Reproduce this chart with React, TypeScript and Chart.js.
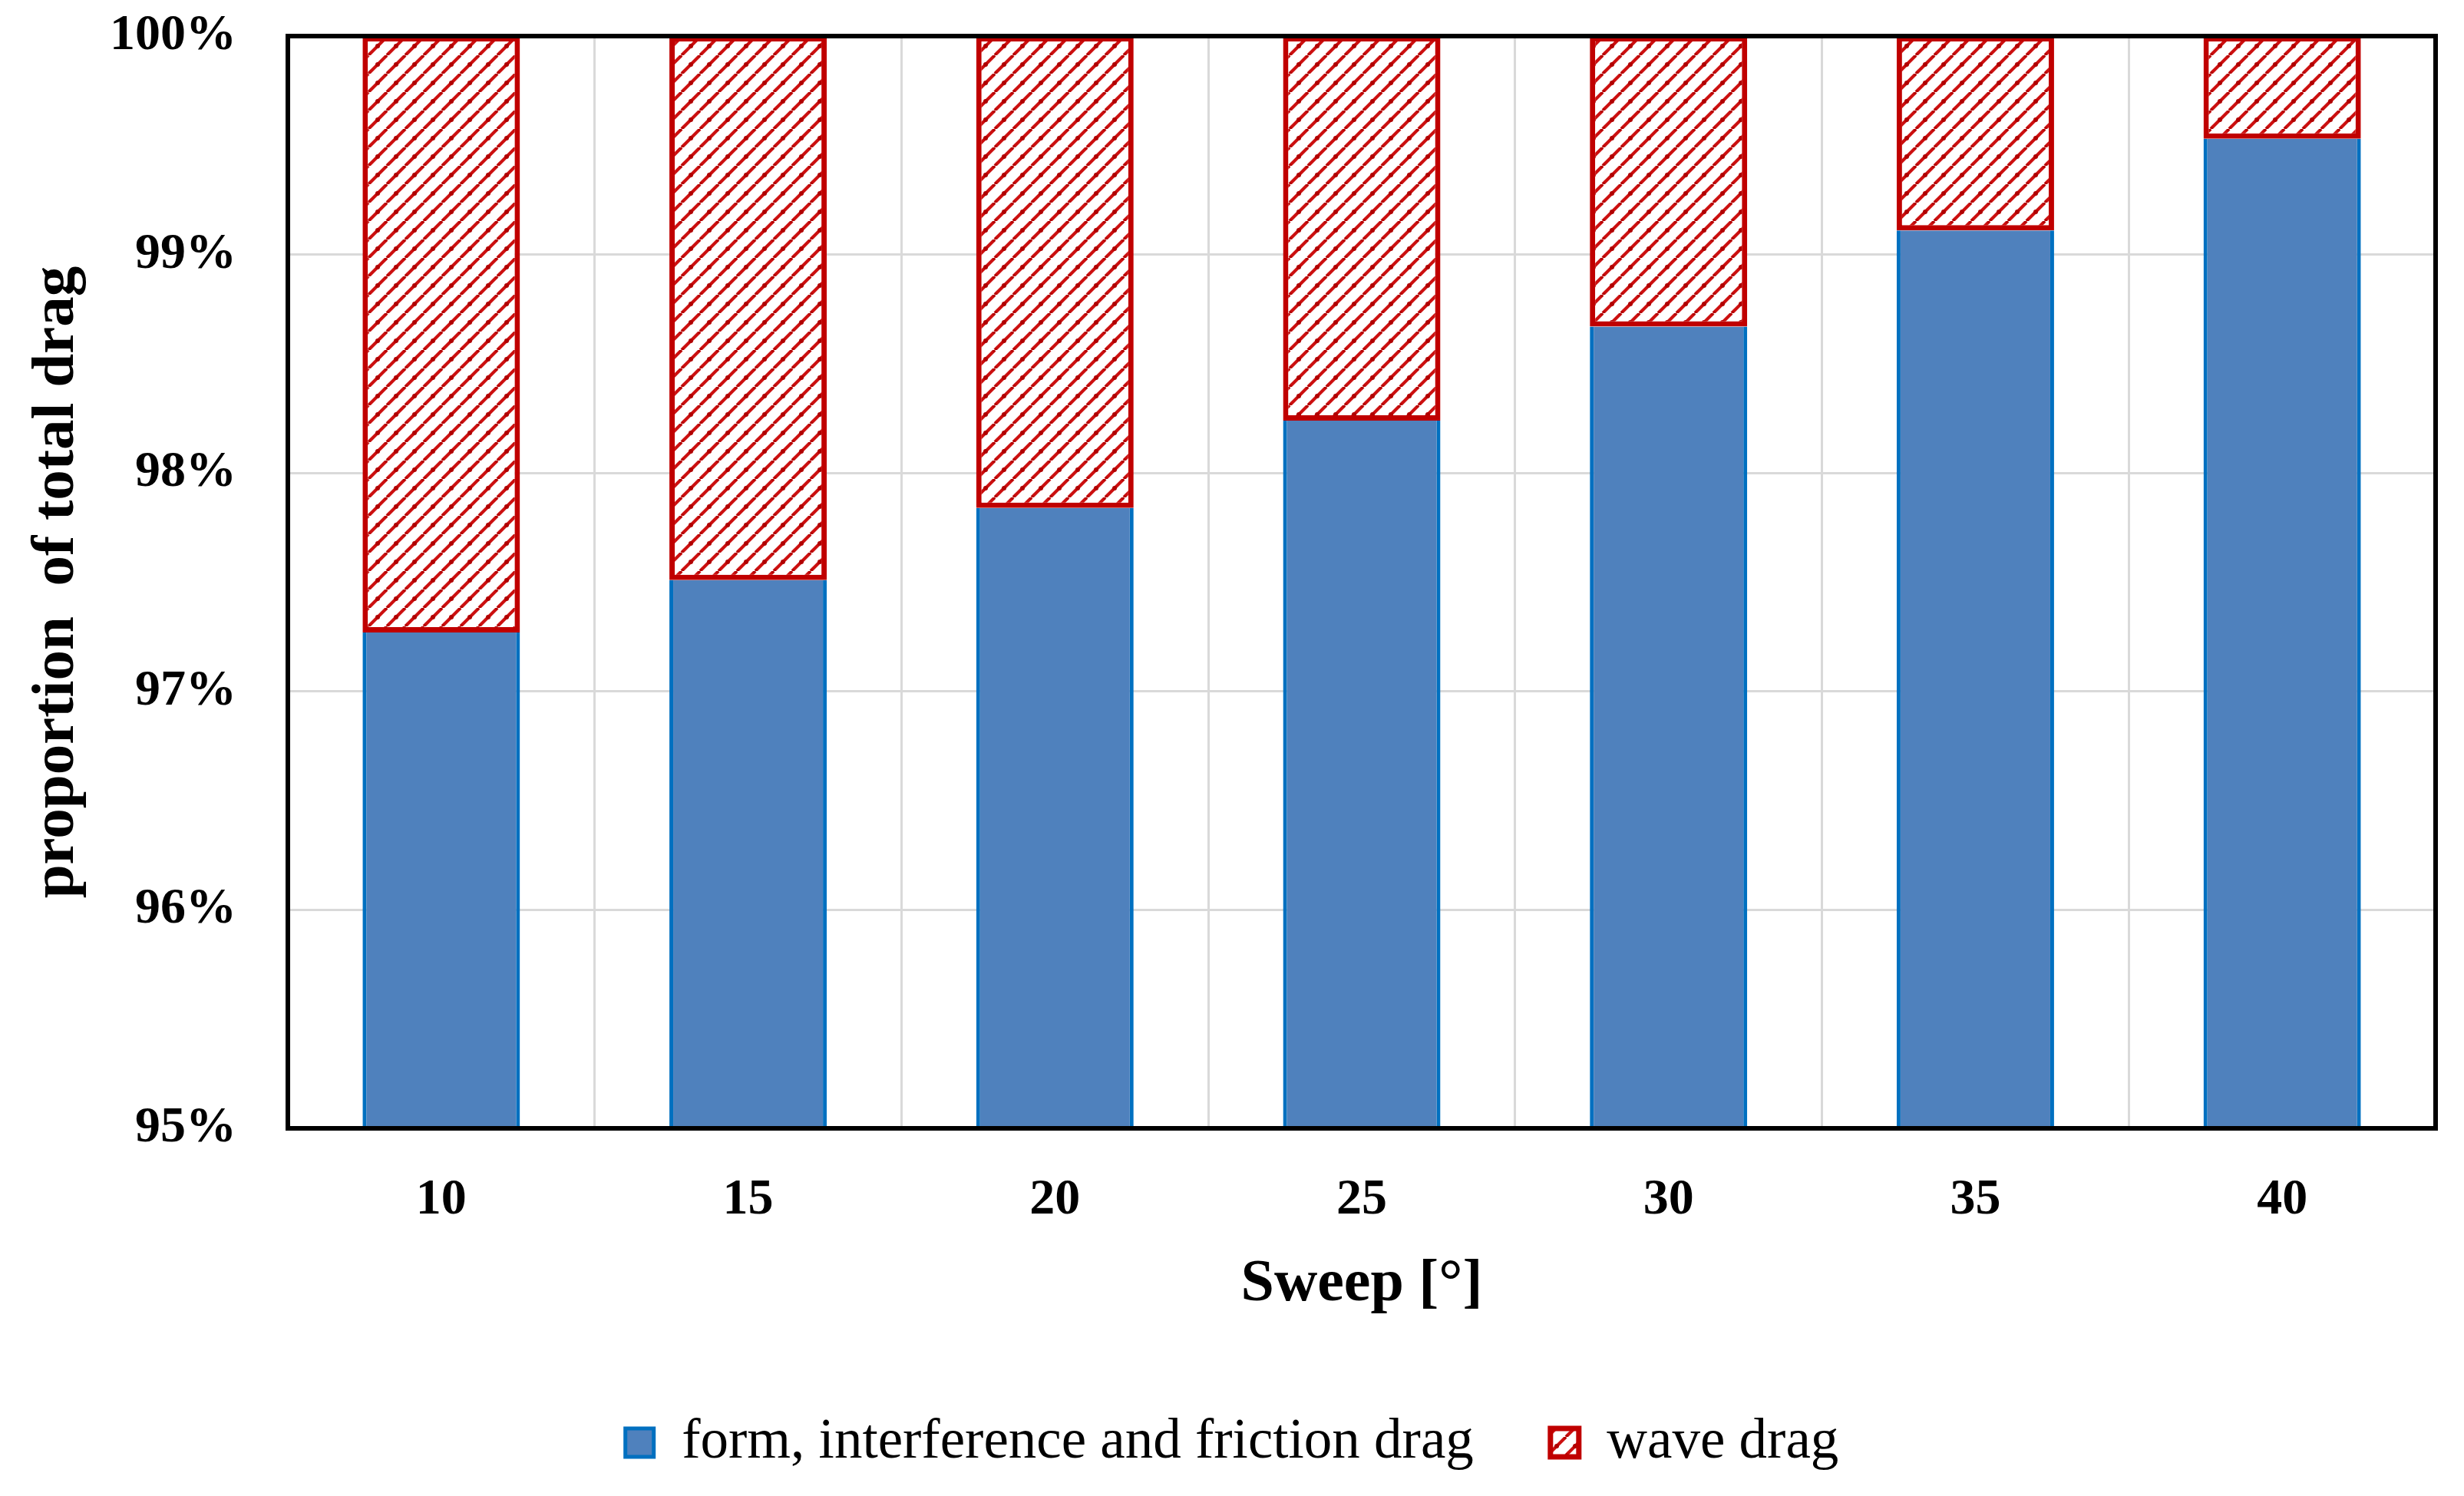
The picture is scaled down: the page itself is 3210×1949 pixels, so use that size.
import React, { useEffect, useRef } from "react";
import { Chart, registerables } from "chart.js";

Chart.register(...registerables);

const categories = ["10", "15", "20", "25", "30", "35", "40"];
const formDrag = [97.27, 97.51, 97.84, 98.24, 98.67, 99.11, 99.53];
const waveDrag = [2.73, 2.49, 2.16, 1.76, 1.33, 0.89, 0.47];
const seriesNames = ["form, interference and friction drag", "wave drag"];
const yTickMin = 95;
const yTickMax = 100;

const W = 3210;
const H = 1949;
const FONT = "'Liberation Serif', 'Times New Roman', serif";

function makeHatch(): CanvasPattern | string {
  const T = 24;
  const c = document.createElement("canvas");
  c.width = T;
  c.height = T;
  const g = c.getContext("2d");
  if (!g) return "#C00000";
  g.fillStyle = "#ffffff";
  g.fillRect(0, 0, T, T);
  g.strokeStyle = "#CC1010";
  g.lineWidth = 4.2;
  g.beginPath();
  for (let k = -1; k <= 1; k++) {
    g.moveTo(k * T, T);
    g.lineTo(k * T + T, 0);
  }
  g.stroke();
  g.fillStyle = "#B00000";
  const dots = [
    [T / 2, T / 2],
    [0, T],
    [T, 0],
  ];
  for (const [x, y] of dots) {
    g.beginPath();
    g.arc(x, y, 3, 0, Math.PI * 2);
    g.fill();
  }
  const p = g.createPattern(c, "repeat");
  return p || "#C00000";
}

const frameBorder = {
  id: "frameBorder",
  afterDatasetsDraw(chart: any) {
    const { ctx, chartArea } = chart;
    ctx.save();
    ctx.strokeStyle = "#000000";
    ctx.lineWidth = 6;
    ctx.strokeRect(
      chartArea.left,
      chartArea.top,
      chartArea.right - chartArea.left,
      chartArea.bottom - chartArea.top
    );
    ctx.restore();
  },
};

export default function App() {
  const ref = useRef<HTMLCanvasElement | null>(null);

  useEffect(() => {
    document.body.style.margin = "0";
    const canvas = ref.current;
    if (!canvas) return;
    const hatch = makeHatch();
    const chart = new Chart(canvas, {
      type: "bar",
      data: {
        labels: categories,
        datasets: [
          {
            label: seriesNames[0],
            data: formDrag,
            backgroundColor: "#4F81BD",
            borderColor: "#0070C0",
            borderWidth: 5,
            borderSkipped: "end",
            categoryPercentage: 1,
            barPercentage: 0.513,
          },
          {
            label: seriesNames[1],
            data: waveDrag,
            backgroundColor: hatch as any,
            borderColor: "#C00000",
            borderWidth: 7,
            borderSkipped: false,
            categoryPercentage: 1,
            barPercentage: 0.513,
          },
        ],
      },
      options: {
        responsive: false,
        animation: false,
        devicePixelRatio: 1,
        layout: {
          padding: { top: 47, right: 37, bottom: 23, left: 37 },
        },
        plugins: {
          tooltip: { enabled: false },
          legend: {
            position: "bottom",
            labels: {
              color: "#000000",
              font: { family: FONT, size: 73, weight: "normal" },
              boxWidth: 37,
              boxHeight: 37,
              padding: 100,
            },
          },
        },
        scales: {
          x: {
            stacked: true,
            grid: {
              color: "#D9D9D9",
              lineWidth: 3,
              drawTicks: false,
              offset: true,
            },
            border: { display: false },
            ticks: {
              color: "#000000",
              font: { family: FONT, size: 66, weight: "bold" },
              padding: 54,
            },
            title: {
              display: true,
              text: "Sweep [°]",
              color: "#000000",
              font: { family: FONT, size: 78, weight: "bold" },
              padding: { top: 0, bottom: 22 },
            },
            afterFit(scale: any) {
              scale.height = 273;
            },
          },
          y: {
            stacked: true,
            min: yTickMin,
            max: yTickMax,
            grid: {
              color: "#D9D9D9",
              lineWidth: 3,
              drawTicks: false,
            },
            border: { display: false },
            ticks: {
              stepSize: 1,
              color: "#000000",
              font: { family: FONT, size: 66, weight: "bold" },
              padding: 67,
              callback: (v: any) => `${v}%`,
            },
            title: {
              display: true,
              text: "proportion  of total drag",
              color: "#000000",
              font: { family: FONT, size: 79, weight: "bold" },
              padding: { top: -10, bottom: 0 },
            },
            afterFit(scale: any) {
              scale.width = 338;
              scale.paddingTop = 0;
              scale.paddingBottom = 0;
            },
          },
        },
      },
      plugins: [frameBorder],
    });
    return () => chart.destroy();
  }, []);

  return (
    <div style={{ width: W, height: H, background: "#ffffff" }}>
      <canvas ref={ref} width={W} height={H} style={{ display: "block", width: W, height: H }} />
    </div>
  );
}
